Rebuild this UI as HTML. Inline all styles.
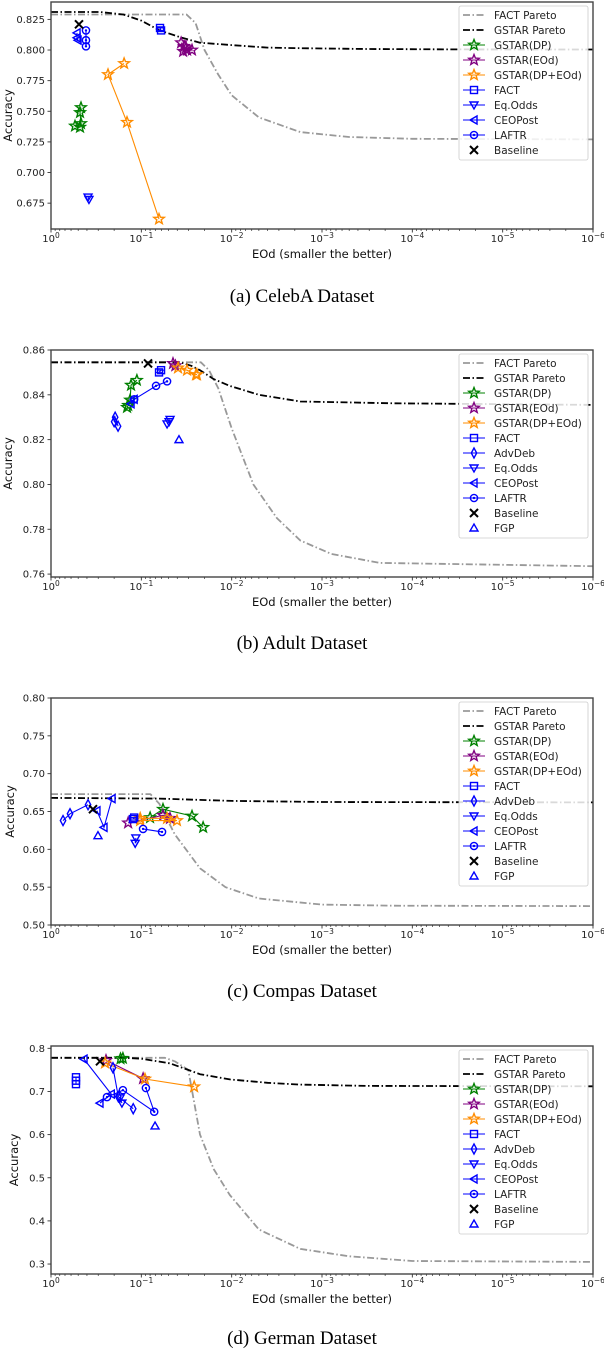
<!DOCTYPE html>
<html><head><meta charset="utf-8">
<style>
html,body{margin:0;padding:0;background:#fff;}
svg text{font-family:"DejaVu Sans","Liberation Sans",sans-serif;}
.cap{font-family:"Liberation Serif",serif;font-size:19px;}
</style></head>
<body>
<svg id="fig" width="604" height="1354" viewBox="0 0 604 1354" xmlns="http://www.w3.org/2000/svg"></svg>
<script>
// ---------- Panel (a) CelebA data ----------
const aFactParetoX=[1,0.0316,0.0251,0.02,0.0141,0.01,0.005,0.00174,5e-4,1e-4,1e-6];
const aFactParetoY=[0.829,0.829,0.822,0.800,0.780,0.763,0.745,0.733,0.729,0.7275,0.727];
const aGstarParetoX=[1,0.288,0.158,0.1,0.063,0.0355,0.0224,0.01,0.004,0.00174,3.2e-4,3.2e-5,1e-6];
const aGstarParetoY=[0.831,0.831,0.829,0.824,0.816,0.810,0.806,0.804,0.802,0.8015,0.8008,0.8005,0.8004];
const aDPX=[0.542,0.477,0.466,0.477,0.466];
const aDPY=[0.738,0.737,0.740,0.749,0.753];
const aEOdX=[0.0363,0.0337,0.0312,0.0345,0.0275,0.032];
const aEOdY=[0.806,0.803,0.800,0.799,0.800,0.802];
const aDPEOdX=[0.155,0.234,0.144,0.0637];
const aDPEOdY=[0.789,0.780,0.741,0.662];
const aFactX=[0.0621,0.0605];
const aFactY=[0.818,0.816];
const aEqOddsX=[0.389,0.38];
const aEqOddsY=[0.680,0.678];
const aCeoX=[0.515,0.515,0.502];
const aCeoY=[0.814,0.810,0.808];
const aLaftrX=[0.41,0.41,0.41];
const aLaftrY=[0.816,0.808,0.803];
const aBaseX=[0.49];
const aBaseY=[0.821];
const aYTicks=[0.675,0.700,0.725,0.750,0.775,0.800,0.825];

// ---------- Panel (b) Adult data ----------
const bFactParetoX=[1,0.0219,0.0178,0.0141,0.01,0.00575,0.00316,0.00174,7.9e-4,2.3e-4,1e-6];
const bFactParetoY=[0.8545,0.8545,0.851,0.843,0.825,0.800,0.785,0.775,0.769,0.765,0.7635];
const bGstarParetoX=[1,0.0372,0.0282,0.0224,0.0158,0.0105,0.005,0.00174,1.6e-4,1e-6];
const bGstarParetoY=[0.8545,0.8545,0.853,0.851,0.847,0.844,0.840,0.837,0.8362,0.8355];
const bDPX=[0.144,0.14,0.133,0.13,0.112];
const bDPY=[0.8344,0.8353,0.8377,0.8443,0.8465];
const bEOdX=[0.0446,0.042];
const bEOdY=[0.854,0.853];
const bDPEOdX=[0.0392,0.0312,0.0248,0.0242];
const bDPEOdY=[0.852,0.851,0.849,0.849];
const bFactX=[0.0637,0.0605];
const bFactY=[0.850,0.851];
const bAdvX=[0.2,0.195,0.181];
const bAdvY=[0.828,0.830,0.826];
const bEqOddsX=[0.0519,0.0493,0.0481];
const bEqOddsY=[0.827,0.828,0.829];
const bCeoX=[0.13,0.12];
const bCeoY=[0.836,0.838];
const bLaftrX=[0.12,0.0687,0.0519];
const bLaftrY=[0.838,0.844,0.846];
const bBaseX=[0.0843];
const bBaseY=[0.854];
const bFgpX=[0.0383];
const bFgpY=[0.820];
const bYTicks=[0.76,0.78,0.80,0.82,0.84,0.86];

// ---------- Panel (c) Compas data ----------
const cFactParetoX=[1,0.0794,0.0631,0.0427,0.0224,0.0117,0.005,0.001,1.6e-4,1e-6];
const cFactParetoY=[0.673,0.673,0.66,0.62,0.575,0.55,0.535,0.527,0.5255,0.525];
const cGstarParetoX=[1,0.0631,0.01,0.001,1e-6];
const cGstarParetoY=[0.668,0.667,0.664,0.6625,0.662];
const cDPX=[0.08,0.0575,0.0275,0.0207];
const cDPY=[0.642,0.653,0.644,0.629];
const cEOdX=[0.14,0.0575,0.0481];
const cEOdY=[0.635,0.645,0.641];
const cDPEOdX=[0.103,0.0403,0.0519,0.103];
const cDPEOdY=[0.638,0.638,0.641,0.641];
const cFactX=[0.124,0.12];
const cFactY=[0.640,0.642];
const cAdvX=[0.736,0.616,0.389];
const cAdvY=[0.638,0.647,0.659];
const cEqOddsX=[0.117,0.115];
const cEqOddsY=[0.608,0.615];
const cCeoX=[0.31,0.259,0.211];
const cCeoY=[0.651,0.629,0.667];
const cLaftrX=[0.0957,0.059];
const cLaftrY=[0.627,0.623];
const cBaseX=[0.343];
const cBaseY=[0.653];
const cFgpX=[0.302];
const cFgpY=[0.618];
const cYTicks=[0.50,0.55,0.60,0.65,0.70,0.75,0.80];

// ---------- Panel (d) German data ----------
const dFactParetoX=[1,0.055,0.0427,0.0302,0.0224,0.0158,0.0105,0.005,0.00174,5e-4,1e-4,1e-6];
const dFactParetoY=[0.778,0.778,0.770,0.750,0.60,0.52,0.46,0.38,0.335,0.318,0.307,0.305];
const dGstarParetoX=[1,0.151,0.1,0.0479,0.0224,0.0105,0.004,0.00174,3.2e-4,1e-6];
const dGstarParetoY=[0.778,0.778,0.776,0.765,0.740,0.728,0.72,0.716,0.713,0.712];
const dDPX=[0.17,0.16];
const dDPY=[0.776,0.777];
const dEOdX=[0.246,0.0957];
const dEOdY=[0.772,0.73];
const dDPEOdX=[0.252,0.091,0.026];
const dDPEOdY=[0.766,0.729,0.711];
const dFactX=[0.529,0.529,0.529];
const dFactY=[0.733,0.725,0.717];
const dAdvX=[0.206,0.18,0.123];
const dAdvY=[0.755,0.688,0.66];
const dEqOddsX=[0.172,0.164];
const dEqOddsY=[0.685,0.673];
const dCeoX=[0.431,0.215,0.287];
const dCeoY=[0.775,0.694,0.673];
const dLaftrX=[0.24,0.16,0.072,0.089];
const dLaftrY=[0.687,0.703,0.653,0.708];
const dBaseX=[0.287];
const dBaseY=[0.770];
const dFgpX=[0.0705];
const dFgpY=[0.62];
const dYTicks=[0.3,0.4,0.5,0.6,0.7,0.8];

const NS='http://www.w3.org/2000/svg';
const fig=document.getElementById('fig');
function mk(tag,attrs,parent){const e=document.createElementNS(NS,tag);for(const k in attrs)e.setAttribute(k,attrs[k]);(parent||fig).appendChild(e);return e;}

const L=51,R=593;
function xs(v){return L+(-Math.log10(v))*(R-L)/6;}

const COL={green:'#008000',purple:'#800080',orange:'#ff8c00',blue:'#0000ff',black:'#000',gray:'#999999'};

function marker(g,type,cx,cy,color){
  const s=4;let el;const sw=1.4;
  if(type==='star'){
    let p=[];for(let i=0;i<10;i++){const r=i%2?2.3:5.5;const a=-Math.PI/2+i*Math.PI/5;p.push((cx+r*Math.cos(a)).toFixed(1)+','+(cy+r*Math.sin(a)).toFixed(1));}
    el=mk('polygon',{points:p.join(' '),fill:'none',stroke:color,'stroke-width':sw},g);
  }else if(type==='square'){
    el=mk('rect',{x:cx-3.5,y:cy-3.5,width:7,height:7,fill:'none',stroke:color,'stroke-width':sw},g);
    mk('line',{x1:cx-3.5,y1:cy,x2:cx+3.5,y2:cy,stroke:color,'stroke-width':1},g);
  }else if(type==='diamond'){
    el=mk('polygon',{points:`${cx},${cy-s-1} ${cx+2.7},${cy} ${cx},${cy+s+1} ${cx-2.7},${cy}`,fill:'none',stroke:color,'stroke-width':sw},g);
  }else if(type==='tdown'){
    el=mk('polygon',{points:`${cx-s},${cy-3} ${cx+s},${cy-3} ${cx},${cy+4}`,fill:'none',stroke:color,'stroke-width':sw},g);
  }else if(type==='tleft'){
    el=mk('polygon',{points:`${cx+3},${cy-s} ${cx+3},${cy+s} ${cx-4},${cy}`,fill:'none',stroke:color,'stroke-width':sw},g);
  }else if(type==='tup'){
    el=mk('polygon',{points:`${cx-s},${cy+3} ${cx+s},${cy+3} ${cx},${cy-4}`,fill:'none',stroke:color,'stroke-width':sw},g);
  }else if(type==='circle'){
    el=mk('circle',{cx:cx,cy:cy,r:3.6,fill:'none',stroke:color,'stroke-width':sw},g);
    mk('circle',{cx:cx,cy:cy,r:1.2,fill:color},g);
  }else if(type==='x'){
    el=mk('path',{d:`M${cx-4},${cy-4}L${cx+4},${cy+4}M${cx-4},${cy+4}L${cx+4},${cy-4}`,stroke:color,'stroke-width':2},g);
  }
  return el;
}

function panel(cfg){
  const {id,top,bot,ymin,ymax,ticks,dec,series,capY,capText,ylabX,tickY,xlabY}=cfg;
  const g=mk('g',{});
  
  
  const ys=v=>bot-(v-ymin)/(ymax-ymin)*(bot-top);
  const sg=mk('g',{},g);
  
  
  series.forEach(s=>{
    const ss=mk('g',{},sg);
    
    
    const pts=s.x.map((v,i)=>xs(v).toFixed(1)+','+ys(s.y[i]).toFixed(1)).join(' ');
    if(s.pareto){
      mk('polyline',{points:pts,fill:'none',stroke:s.color,'stroke-width':1.8,'stroke-dasharray':'7,2.5,1.5,2.5','stroke-linejoin':'round'},ss);
    }else{
      if(s.line&&s.x.length>1)mk('polyline',{points:pts,fill:'none',stroke:s.color,'stroke-width':1.1},ss);
      s.x.forEach((v,i)=>{const m=marker(ss,s.marker,xs(v),ys(s.y[i]),s.color);
        
        });
    }
  });
  const ax=mk('rect',{x:L,y:top,width:R-L,height:bot-top,fill:'none',stroke:'#444','stroke-width':1.4},g);
  
  
  ticks.forEach(t=>{
    const y=ys(t);
    mk('line',{x1:L-3.5,y1:y,x2:L,y2:y,stroke:'#333','stroke-width':0.9},g);
    const tx=mk('text',{x:L-6,y:y+3.5,'font-size':10,'text-anchor':'end',fill:'#222'},g);
    tx.textContent=t.toFixed(dec);
    
    
  });
  for(let d=0;d<=6;d++){
    const x=xs(Math.pow(10,-d));
    mk('line',{x1:x,y1:bot,x2:x,y2:bot+3.5,stroke:'#333','stroke-width':0.9},g);
    const tx=mk('text',{x:x,y:tickY,'font-size':10,'text-anchor':'middle',fill:'#222'},g);
    tx.textContent='10';
    const sp=mk('tspan',{dy:-4,'font-size':7.5},tx);
    sp.textContent=d===0?'0':'\u2212'+d;
    
    
    if(d<6)for(let k=2;k<=9;k++){const xm=xs(k*Math.pow(10,-d-1));
      mk('line',{x1:xm,y1:bot,x2:xm,y2:bot+2,stroke:'#333','stroke-width':0.7},g);}
  }
  const xl=mk('text',{x:(L+R)/2,y:xlabY,'font-size':11.5,'text-anchor':'middle',fill:'#111'},g);
  xl.textContent='EOd (smaller the better)';
  
  
  const yc=(top+bot)/2;
  const yl=mk('text',{x:ylabX,y:yc,'font-size':11.5,'text-anchor':'middle',fill:'#111',transform:`rotate(-90 ${ylabX} ${yc})`},g);
  yl.textContent='Accuracy';
  
  
  const lg=mk('g',{},g);
  
  
  const n=series.length;
  mk('rect',{x:459,y:top+4,width:129,height:n*15+4,fill:'#fff','fill-opacity':0.85,stroke:'#ccc','stroke-width':0.8,rx:2},lg);
  series.forEach((s,i)=>{
    const ry=top+13+i*15;
    const eg=mk('g',{},lg);
    
    
    if(s.pareto)mk('line',{x1:463,y1:ry,x2:485,y2:ry,stroke:s.color,'stroke-width':1.8,'stroke-dasharray':'7,2.5,1.5,2.5'},eg);
    else{ if(s.line)mk('line',{x1:463,y1:ry,x2:485,y2:ry,stroke:s.color,'stroke-width':1.1},eg);
      marker(eg,s.marker,474,ry,s.color);}
    const t=mk('text',{x:494,y:ry+3.8,'font-size':10.5,fill:'#222'},eg);
    t.textContent=s.label;
  });
  const cap=mk('text',{x:302,y:capY,'text-anchor':'middle',class:'cap',fill:'#000'},g);
  cap.textContent=capText;
  
  
}

function S(key,label,x,y,color,marker,line,pareto){return {key,label,x,y,color,marker,line,pareto};}

panel({id:'celeba',top:2,bot:229,ymin:0.6539,ymax:0.8392,ticks:aYTicks,dec:3,capY:302,capText:'(a) CelebA Dataset',ylabX:12,tickY:242,xlabY:258,
series:[
 S('fact-pareto','FACT Pareto',aFactParetoX,aFactParetoY,COL.gray,null,true,true),
 S('gstar-pareto','GSTAR Pareto',aGstarParetoX,aGstarParetoY,COL.black,null,true,true),
 S('gstar-dp','GSTAR(DP)',aDPX,aDPY,COL.green,'star',true),
 S('gstar-eod','GSTAR(EOd)',aEOdX,aEOdY,COL.purple,'star',true),
 S('gstar-dp-eod','GSTAR(DP+EOd)',aDPEOdX,aDPEOdY,COL.orange,'star',true),
 S('fact','FACT',aFactX,aFactY,COL.blue,'square',true),
 S('eq-odds','Eq.Odds',aEqOddsX,aEqOddsY,COL.blue,'tdown',true),
 S('ceopost','CEOPost',aCeoX,aCeoY,COL.blue,'tleft',true),
 S('laftr','LAFTR',aLaftrX,aLaftrY,COL.blue,'circle',true),
 S('baseline','Baseline',aBaseX,aBaseY,COL.black,'x',false)
]});

panel({id:'adult',top:350,bot:577,ymin:0.7587,ymax:0.86,ticks:bYTicks,dec:2,capY:649,capText:'(b) Adult Dataset',ylabX:12,tickY:590,xlabY:606,
series:[
 S('fact-pareto','FACT Pareto',bFactParetoX,bFactParetoY,COL.gray,null,true,true),
 S('gstar-pareto','GSTAR Pareto',bGstarParetoX,bGstarParetoY,COL.black,null,true,true),
 S('gstar-dp','GSTAR(DP)',bDPX,bDPY,COL.green,'star',true),
 S('gstar-eod','GSTAR(EOd)',bEOdX,bEOdY,COL.purple,'star',true),
 S('gstar-dp-eod','GSTAR(DP+EOd)',bDPEOdX,bDPEOdY,COL.orange,'star',true),
 S('fact','FACT',bFactX,bFactY,COL.blue,'square',true),
 S('advdeb','AdvDeb',bAdvX,bAdvY,COL.blue,'diamond',true),
 S('eq-odds','Eq.Odds',bEqOddsX,bEqOddsY,COL.blue,'tdown',true),
 S('ceopost','CEOPost',bCeoX,bCeoY,COL.blue,'tleft',true),
 S('laftr','LAFTR',bLaftrX,bLaftrY,COL.blue,'circle',true),
 S('baseline','Baseline',bBaseX,bBaseY,COL.black,'x',false),
 S('fgp','FGP',bFgpX,bFgpY,COL.blue,'tup',false)
]});

panel({id:'compas',top:698,bot:925,ymin:0.5,ymax:0.8,ticks:cYTicks,dec:2,capY:997,capText:'(c) Compas Dataset',ylabX:14,tickY:938,xlabY:954,
series:[
 S('fact-pareto','FACT Pareto',cFactParetoX,cFactParetoY,COL.gray,null,true,true),
 S('gstar-pareto','GSTAR Pareto',cGstarParetoX,cGstarParetoY,COL.black,null,true,true),
 S('gstar-dp','GSTAR(DP)',cDPX,cDPY,COL.green,'star',true),
 S('gstar-eod','GSTAR(EOd)',cEOdX,cEOdY,COL.purple,'star',true),
 S('gstar-dp-eod','GSTAR(DP+EOd)',cDPEOdX,cDPEOdY,COL.orange,'star',true),
 S('fact','FACT',cFactX,cFactY,COL.blue,'square',true),
 S('advdeb','AdvDeb',cAdvX,cAdvY,COL.blue,'diamond',true),
 S('eq-odds','Eq.Odds',cEqOddsX,cEqOddsY,COL.blue,'tdown',true),
 S('ceopost','CEOPost',cCeoX,cCeoY,COL.blue,'tleft',true),
 S('laftr','LAFTR',cLaftrX,cLaftrY,COL.blue,'circle',true),
 S('baseline','Baseline',cBaseX,cBaseY,COL.black,'x',false),
 S('fgp','FGP',cFgpX,cFgpY,COL.blue,'tup',false)
]});

panel({id:'german',top:1046,bot:1274,ymin:0.2769,ymax:0.8054,ticks:dYTicks,dec:1,capY:1344,capText:'(d) German Dataset',ylabX:18,tickY:1287,xlabY:1303,
series:[
 S('fact-pareto','FACT Pareto',dFactParetoX,dFactParetoY,COL.gray,null,true,true),
 S('gstar-pareto','GSTAR Pareto',dGstarParetoX,dGstarParetoY,COL.black,null,true,true),
 S('gstar-dp','GSTAR(DP)',dDPX,dDPY,COL.green,'star',true),
 S('gstar-eod','GSTAR(EOd)',dEOdX,dEOdY,COL.purple,'star',true),
 S('gstar-dp-eod','GSTAR(DP+EOd)',dDPEOdX,dDPEOdY,COL.orange,'star',true),
 S('fact','FACT',dFactX,dFactY,COL.blue,'square',true),
 S('advdeb','AdvDeb',dAdvX,dAdvY,COL.blue,'diamond',true),
 S('eq-odds','Eq.Odds',dEqOddsX,dEqOddsY,COL.blue,'tdown',true),
 S('ceopost','CEOPost',dCeoX,dCeoY,COL.blue,'tleft',true),
 S('laftr','LAFTR',dLaftrX,dLaftrY,COL.blue,'circle',true),
 S('baseline','Baseline',dBaseX,dBaseY,COL.black,'x',false),
 S('fgp','FGP',dFgpX,dFgpY,COL.blue,'tup',false)
]});
</script>
</body></html>
